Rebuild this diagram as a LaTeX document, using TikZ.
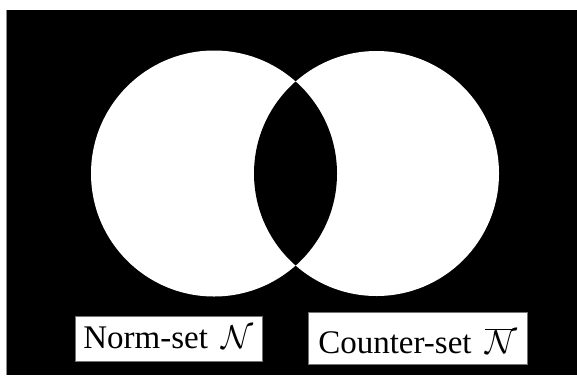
\RequirePackage{fix-cm}
\documentclass[tikz,border=0pt]{standalone}
\usepackage{fontspec}
\setmainfont{Liberation Serif}
\begin{document}
\begin{tikzpicture}[x=1pt,y=-1pt,
  setcircle/.style={fill=white},
  labelbox/.style={draw=black!55, line width=0.8pt, fill=white, inner sep=0pt, anchor=base,
    font=\fontsize{33}{38}\selectfont}]
  \useasboundingbox (0,0) rectangle (577,375);
  \fill[white] (0,0) rectangle (577,375);
  \fill[black] (6,10) rectangle (577,375);
  \draw[black!45, line width=0.8pt] (6.4,10) -- (6.4,375);
  % circles
  \fill[setcircle] (214,173.5) circle[radius=123];
  \fill[setcircle] (376.5,173.5) circle[radius=122.5];
  \begin{scope}
    \clip (214,173.5) circle[radius=123];
    \fill[black] (376.5,173.5) circle[radius=122.5];
  \end{scope}
  % labels
  \node (norm) [labelbox, text height=31.6pt, text depth=12.7pt, minimum width=187pt]
    at (168.5,348.3) {Norm-set\, $\mathcal{N}$};
  \node (counter) [labelbox, text height=41.3pt, text depth=11.2pt, minimum width=219.5pt]
    at (417.75,353.3) {Counter-set\, $\overline{\mathcal{N}\!}\,$};
\end{tikzpicture}
\end{document}
